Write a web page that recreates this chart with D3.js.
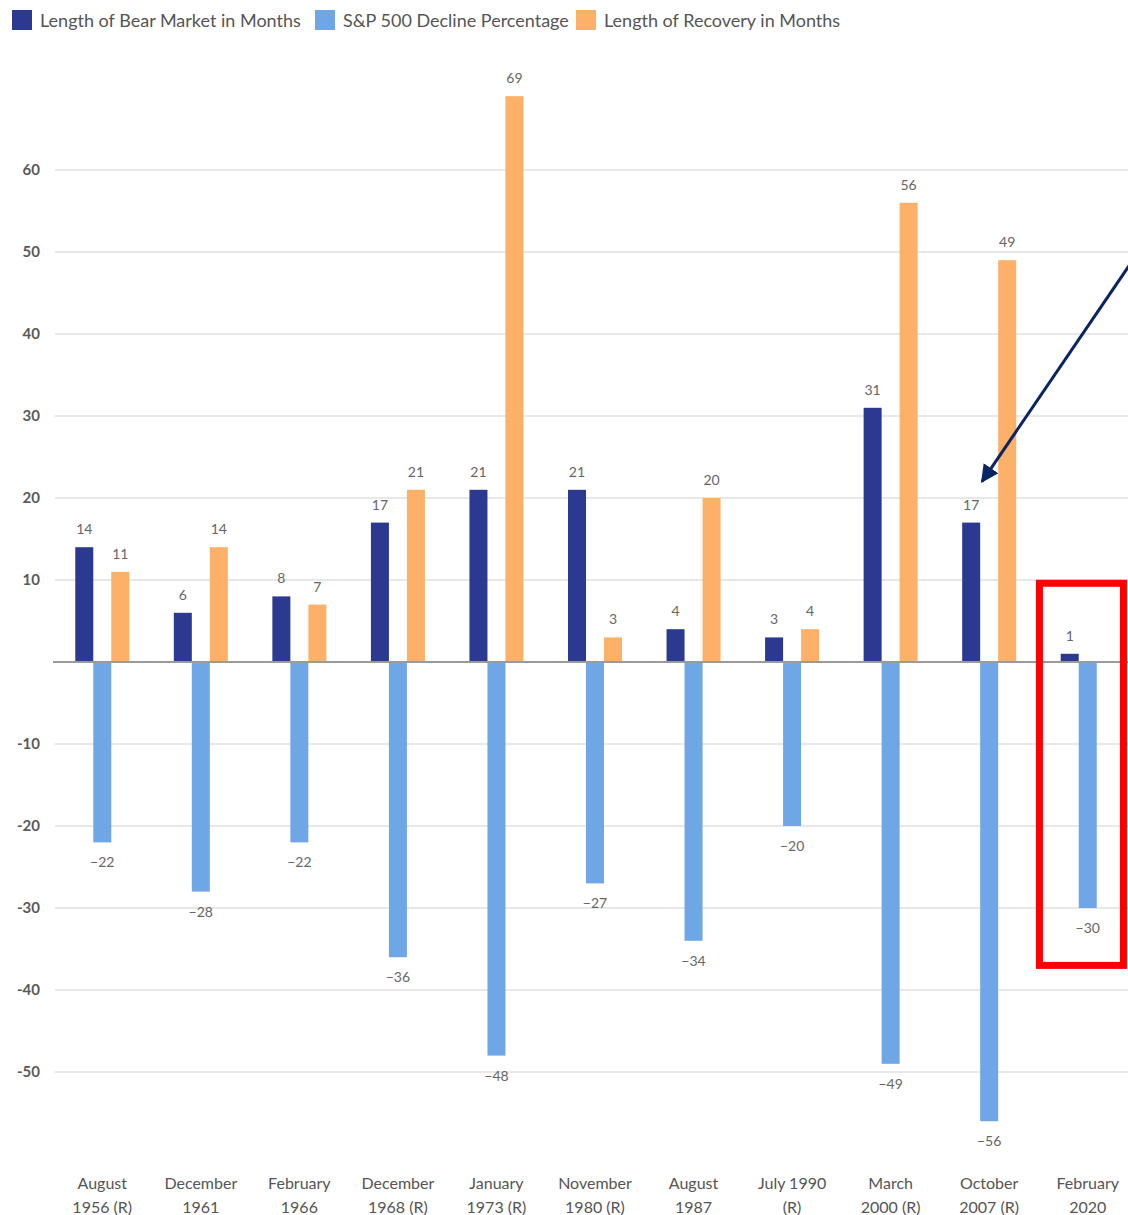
<!DOCTYPE html>
<html>
<head>
<meta charset="utf-8">
<script src="https://cdn.jsdelivr.net/npm/d3@7"></script>
<style>
  html, body { margin: 0; padding: 0; background: #fff; }
  svg { display: block; font-family: Lato, "Open Sans", sans-serif; }
</style>
</head>
<body>
<svg id="chart" width="1128" height="1215"></svg>
<script>
// Bear markets since 1956 — duration, S&P 500 drawdown and recovery time
const periods = [
  ["August", "1956 (R)"],
  ["December", "1961"],
  ["February", "1966"],
  ["December", "1968 (R)"],
  ["January", "1973 (R)"],
  ["November", "1980 (R)"],
  ["August", "1987"],
  ["July 1990", "(R)"],
  ["March", "2000 (R)"],
  ["October", "2007 (R)"],
  ["February", "2020"]
];
const bearMonths     = [14, 6, 8, 17, 21, 21, 4, 3, 31, 17, 1];
const declinePct     = [-22, -28, -22, -36, -48, -27, -34, -20, -49, -56, -30];
const recoveryMonths = [11, 14, 7, 21, 69, 3, 20, 4, 56, 49, null];
const yTicks = [60, 50, 40, 30, 20, 10, -10, -20, -30, -40, -50];

const seriesNames = ["Length of Bear Market in Months", "S&P 500 Decline Percentage", "Length of Recovery in Months"];
const seriesColors = ["#2b3990", "#6ea6e6", "#fdb067"];
const seriesValues = [bearMonths, declinePct, recoveryMonths];

const svg = d3.select("#chart");

const x0 = d3.scaleBand()
  .domain(d3.range(periods.length))
  .range([53, 1137])
  .padding(0);
const groupWidth = 54;
const x1 = d3.scaleBand()
  .domain(d3.range(seriesNames.length))
  .range([(x0.bandwidth() - groupWidth) / 2, (x0.bandwidth() + groupWidth) / 2])
  .padding(0);

const y = d3.scaleLinear().domain([-60, 70]).range([1154, 88]);

// gridlines
svg.append("g")
  .selectAll("line")
  .data(yTicks)
  .join("line")
  .attr("x1", 55).attr("x2", 1128)
  .attr("y1", d => y(d)).attr("y2", d => y(d))
  .attr("stroke", "#e8e8e8")
  .attr("stroke-width", 2);

// y axis labels
const yAxis = d3.axisLeft(y).tickValues(yTicks).tickSize(0).tickPadding(0)
  .tickFormat(d => String(d).replace("\u2212", "-"));
const yg = svg.append("g").attr("transform", "translate(40,0)").call(yAxis);
yg.select(".domain").remove();
yg.selectAll("text")
  .attr("font-family", "Lato, sans-serif")
  .attr("font-size", 15)
  .attr("font-weight", 700)
  .attr("fill", "#5a5a5a");

// bars
const groups = svg.append("g")
  .selectAll("g")
  .data(periods.map((p, i) => i))
  .join("g")
  .attr("transform", i => `translate(${x0(i)},0)`);

const cells = groups.selectAll("g.cell")
  .data(i => seriesValues.map((vals, s) => ({ s, v: vals[i] })).filter(d => d.v !== null))
  .join("g")
  .attr("class", "cell");

cells.append("rect")
  .attr("x", d => x1(d.s))
  .attr("width", x1.bandwidth())
  .attr("y", d => y(Math.max(0, d.v)))
  .attr("height", d => Math.abs(y(d.v) - y(0)))
  .attr("fill", d => seriesColors[d.s]);

cells.append("text")
  .attr("x", d => x1(d.s) + x1.bandwidth() / 2)
  .attr("y", d => d.v >= 0 ? y(d.v) - 13 : y(d.v) + 25)
  .attr("text-anchor", "middle")
  .attr("font-size", 14)
  .attr("fill", "#666")
  .text(d => d.v < 0 ? "\u2212" + Math.abs(d.v) : d.v);

// zero line
svg.append("line")
  .attr("x1", 53).attr("x2", 1128)
  .attr("y1", y(0)).attr("y2", y(0))
  .attr("stroke", "#9a9a9a")
  .attr("stroke-width", 2);

// category labels
const xl = svg.append("g")
  .selectAll("text")
  .data(periods.map((p, i) => ({ p, i })))
  .join("text")
  .attr("x", d => x0(d.i) + x0.bandwidth() / 2)
  .attr("text-anchor", "middle")
  .attr("font-size", 16)
  .attr("fill", "#555");
xl.append("tspan").attr("x", d => x0(d.i) + x0.bandwidth() / 2).attr("y", 1189).text(d => d.p[0]);
xl.append("tspan").attr("x", d => x0(d.i) + x0.bandwidth() / 2).attr("y", 1213).text(d => d.p[1]);

// legend
const legendX = [12, 315, 576];
const lg = svg.append("g")
  .selectAll("g")
  .data(seriesNames.map((n, i) => ({ n, i })))
  .join("g")
  .attr("transform", d => `translate(${legendX[d.i]},10)`);
lg.append("rect").attr("width", 20).attr("height", 20).attr("fill", d => seriesColors[d.i]);
lg.append("text").attr("x", 28).attr("y", 17).attr("font-size", 18).attr("fill", "#555").text(d => d.n);

// annotation: arrow pointing at the 2007 bear market bar
const defs = svg.append("defs");
defs.append("marker")
  .attr("id", "arrowhead")
  .attr("viewBox", "0 0 10 10")
  .attr("refX", 9).attr("refY", 5)
  .attr("markerWidth", 6).attr("markerHeight", 6)
  .attr("orient", "auto")
  .append("path")
  .attr("d", "M0,0 L10,5 L0,10 z")
  .attr("fill", "#0b2463");

const arrowStart = { v: 48.5, x: 1130 };
const arrowEnd = { v: 22, x: 982 };
svg.append("line")
  .attr("x1", arrowStart.x).attr("y1", y(arrowStart.v))
  .attr("x2", arrowEnd.x).attr("y2", y(arrowEnd.v))
  .attr("stroke", "#0b2463")
  .attr("stroke-width", 3)
  .attr("marker-end", "url(#arrowhead)");

// highlight box around February 2020
const lastBand = x0(periods.length - 1);
svg.append("rect")
  .attr("x", lastBand + 1)
  .attr("y", y(9.6))
  .attr("width", 84)
  .attr("height", y(-37) - y(9.6))
  .attr("fill", "none")
  .attr("stroke", "#ff0000")
  .attr("stroke-width", 7);
</script>
</body>
</html>
